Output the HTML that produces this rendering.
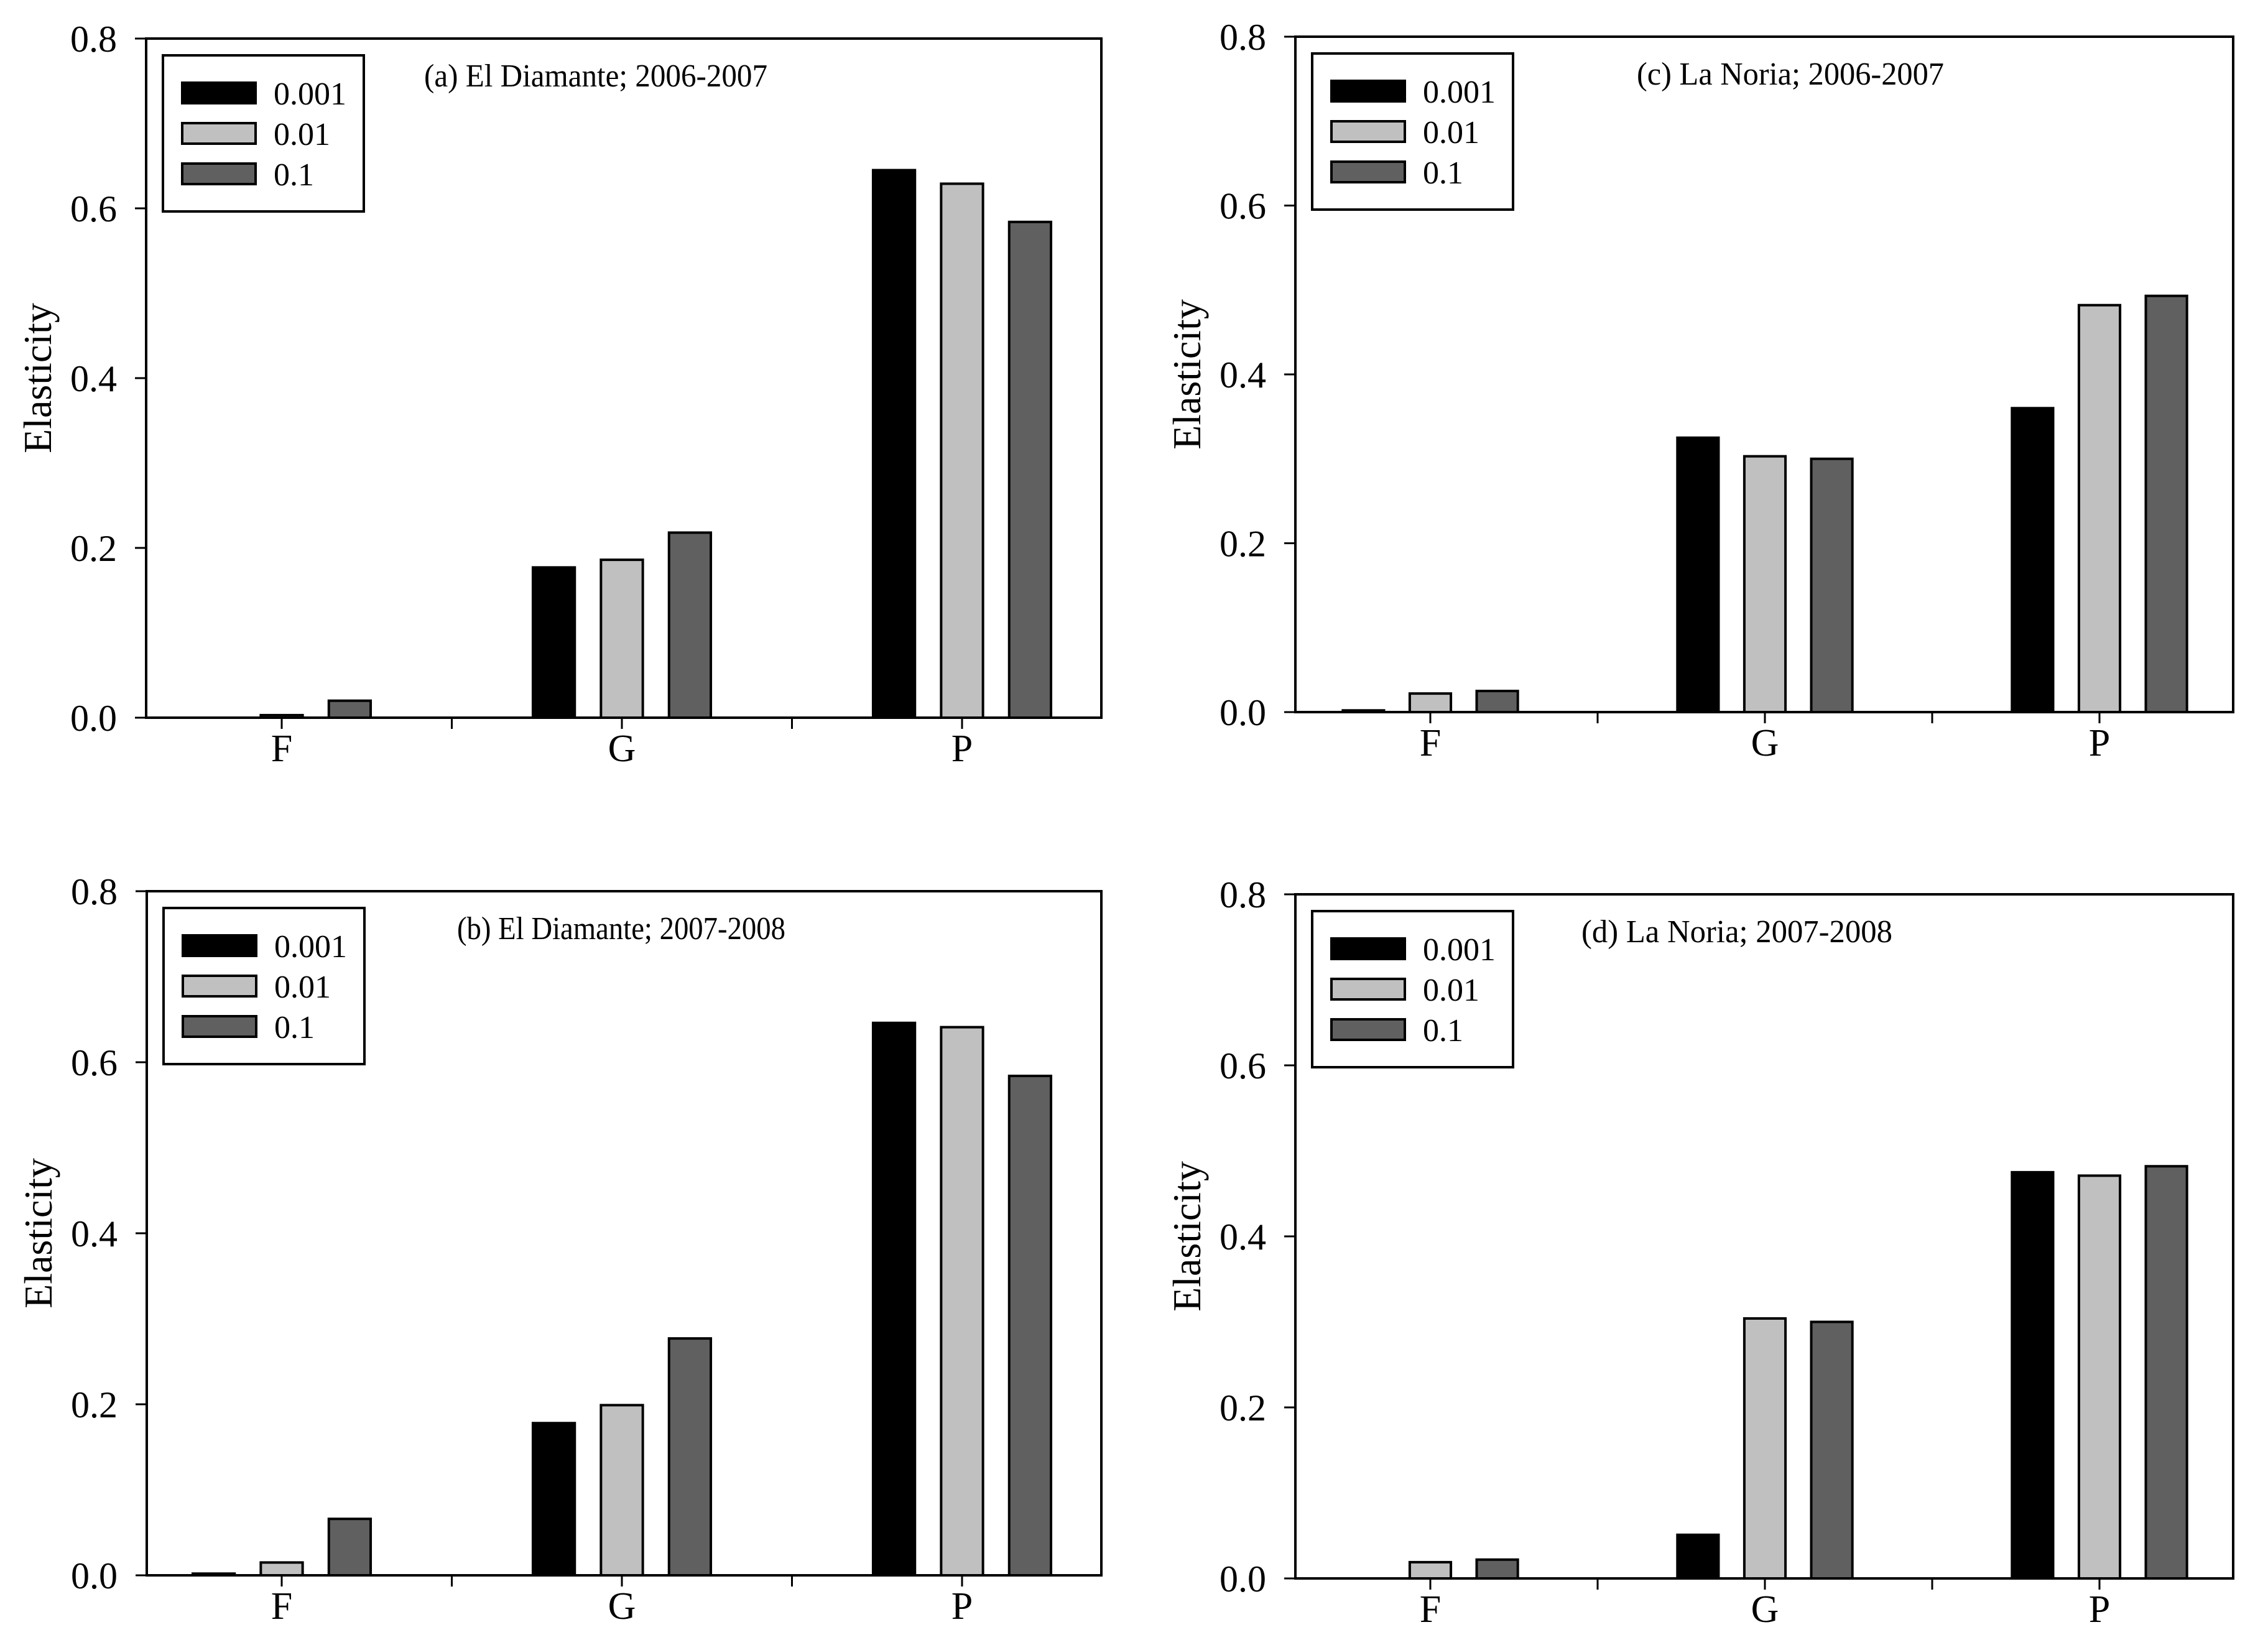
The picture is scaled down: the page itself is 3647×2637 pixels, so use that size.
<!DOCTYPE html>
<html><head><meta charset="utf-8"><style>
html,body{margin:0;padding:0;background:#fff;}
svg{display:block;}
text{font-family:"Liberation Serif","Times New Roman",serif;}
</style></head><body>
<svg id="fig" width="3647" height="2637" viewBox="0 0 3647 2637" xmlns="http://www.w3.org/2000/svg"></svg>
<script>
const categories = ["F", "G", "P"];
const seriesNames = ["0.001", "0.01", "0.1"];
const yTicks = [0, 0.2, 0.4, 0.6, 0.8];
const yTickLabels = ["0.0", "0.2", "0.4", "0.6", "0.8"];
const panelTitles = ["(a) El Diamante; 2006-2007", "(b) El Diamante; 2007-2008", "(c) La Noria; 2006-2007", "(d) La Noria; 2007-2008"];
const valuesA001 = [0, 0.177, 0.645];
const valuesA01 = [0.003, 0.186, 0.629];
const valuesA1 = [0.020, 0.218, 0.584];
const valuesB001 = [0.002, 0.178, 0.646];
const valuesB01 = [0.015, 0.199, 0.641];
const valuesB1 = [0.066, 0.277, 0.584];
const valuesC001 = [0.002, 0.325, 0.360];
const valuesC01 = [0.022, 0.303, 0.482];
const valuesC1 = [0.025, 0.300, 0.493];
const valuesD001 = [0, 0.051, 0.475];
const valuesD01 = [0.019, 0.304, 0.471];
const valuesD1 = [0.022, 0.300, 0.482];

const fills = ["#000000", "#c0c0c0", "#606060"];
const FONT = '"Liberation Serif", "Times New Roman", serif';
const NS = "http://www.w3.org/2000/svg";
const svg = document.getElementById("fig");
function mk(tag, attrs, parent, text) {
  const e = document.createElementNS(NS, tag);
  for (const k in attrs) e.setAttribute(k, attrs[k]);
  if (tag === "text") e.setAttribute("font-family", FONT);
  if (text !== undefined) e.textContent = text;
  (parent || svg).appendChild(e);
  return e;
}
const panels = [
  {id:"a", left:235, right:1771, top:62, bottom:1154, f:453, step:547, title:panelTitles[0], tx:682, tw:552, data:[valuesA001, valuesA01, valuesA1]},
  {id:"b", left:236, right:1771, top:1433, bottom:2533, f:453, step:547, title:panelTitles[1], tx:735, tw:528, data:[valuesB001, valuesB01, valuesB1]},
  {id:"c", left:2083, right:3591, top:59, bottom:1145, f:2300, step:538, title:panelTitles[2], tx:2632, tw:494, data:[valuesC001, valuesC01, valuesC1]},
  {id:"d", left:2083, right:3591, top:1438, bottom:2538, f:2300, step:538, title:panelTitles[3], tx:2543, tw:500, data:[valuesD001, valuesD01, valuesD1]}
];
panels.forEach(p => {
  const g = mk("g", {});
  
  
  const ymax = 0.8;
  const yScale = v => p.bottom - (v / ymax) * (p.bottom - p.top);
  const plotW = p.right - p.left;
  const step = p.step;
  const xCat = i => p.f + i * step;
  const barOff = 0.2 * step, barW = 0.123 * step;
  p.data.forEach((vals, s) => {
    vals.forEach((v, i) => {
      if (v <= 0) return;
      const y = yScale(v);
      const r = mk("rect", {x: xCat(i) + (s - 1) * barOff - barW / 2, y: y, width: barW, height: p.bottom - y, fill: fills[s], stroke: "#000", "stroke-width": 4}, g);
      
      
    });
  });
  const fr = mk("rect", {x: p.left, y: p.top, width: plotW, height: p.bottom - p.top, fill: "none", stroke: "#000", "stroke-width": 4}, g);
  
  
  yTicks.forEach((t, k) => {
    const y = yScale(t);
    mk("line", {x1: p.left - 18, x2: p.left, y1: y, y2: y, stroke: "#000", "stroke-width": 3}, g);
    const tl = mk("text", {x: p.left - 47, y: y + 21, "font-size": 60, "text-anchor": "end"}, g, yTickLabels[k]);
    
    
  });
  for (let i = 0; i < 3; i++) {
    const x = xCat(i);
    mk("line", {x1: x, x2: x, y1: p.bottom, y2: p.bottom + 18, stroke: "#000", "stroke-width": 3}, g);
    if (i < 2) mk("line", {x1: x + step / 2, x2: x + step / 2, y1: p.bottom, y2: p.bottom + 18, stroke: "#000", "stroke-width": 3}, g);
    const cl = mk("text", {x: x, y: p.bottom + 70, "font-size": 62, "text-anchor": "middle"}, g, categories[i]);
    
    
  }
  const yc = (p.top + p.bottom) / 2;
  const yt = mk("text", {x: 0, y: 0, "font-size": 64, "text-anchor": "middle", transform: `translate(${p.left - 153},${yc}) rotate(-90)`}, g, "Elasticity");
  
  
  const pt = mk("text", {x: p.tx, y: p.top + 77, "font-size": 52, textLength: p.tw, lengthAdjust: "spacingAndGlyphs"}, g, p.title);
  
  
  const lx = p.left + 27, ly = p.top + 27;
  const lg = mk("g", {}, g);
  
  
  mk("rect", {x: lx, y: ly, width: 323, height: 251, fill: "#fff", stroke: "#000", "stroke-width": 4}, lg);
  seriesNames.forEach((n, s) => {
    const ry = ly + 44 + s * 65;
    const sw = mk("rect", {x: lx + 31, y: ry, width: 118, height: 33, fill: fills[s], stroke: "#000", "stroke-width": 4}, lg);
    
    
    const lt = mk("text", {x: lx + 178, y: ry + 35, "font-size": 52}, lg, n);
    
    
  });
});
</script>
</body></html>
